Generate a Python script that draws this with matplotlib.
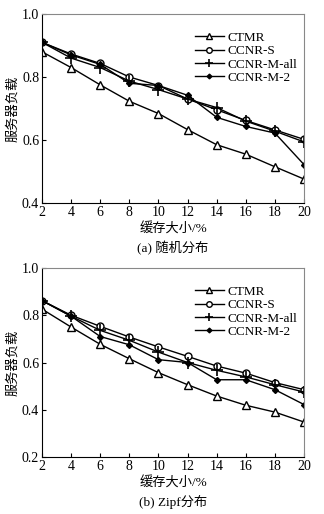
import matplotlib
matplotlib.use('Agg')
import matplotlib.pyplot as plt

plt.rcParams['font.family'] = ['Liberation Serif', 'Noto Sans CJK SC']

cache = [2, 4, 6, 8, 10, 12, 14, 16, 18, 20]
names = ['CTMR', 'CCNR-S', 'CCNR-M-all', 'CCNR-M-2']

# (a) random distribution
rand_ctmr = [0.88, 0.83, 0.775, 0.723, 0.684, 0.633, 0.585, 0.555, 0.515, 0.476]
rand_s = [0.91, 0.873, 0.843, 0.80, 0.773, 0.73, 0.696, 0.662, 0.632, 0.602]
rand_all = [0.91, 0.86, 0.83, 0.787, 0.76, 0.73, 0.703, 0.66, 0.628, 0.594]
rand_m2 = [0.91, 0.87, 0.84, 0.78, 0.773, 0.742, 0.672, 0.643, 0.622, 0.522]

# (b) Zipf distribution
zipf_ctmr = [0.826, 0.75, 0.677, 0.616, 0.557, 0.506, 0.458, 0.419, 0.39, 0.348]
zipf_s = [0.862, 0.80, 0.753, 0.708, 0.666, 0.626, 0.585, 0.555, 0.515, 0.485]
zipf_all = [0.862, 0.796, 0.736, 0.694, 0.644, 0.60, 0.567, 0.539, 0.506, 0.475]
zipf_m2 = [0.862, 0.796, 0.71, 0.675, 0.612, 0.60, 0.527, 0.527, 0.485, 0.422]

styles = [dict(marker='^', mfc='white', ms=6),
          dict(marker='o', mfc='white', ms=5),
          dict(marker='+', ms=8, mew=1.2),
          dict(marker='D', ms=3, mfc='black')]

fig = plt.figure(figsize=(3.24, 5.14), dpi=100)
ax1 = fig.add_axes([42/324, 1-203/514, 262/324, 189/514])
ax2 = fig.add_axes([42/324, 1-457/514, 262/324, 189/514])

panels = [(ax1, [rand_ctmr, rand_s, rand_all, rand_m2], (0.4, 1.0), [0.4, 0.6, 0.8, 1.0], '(a) 随机分布'),
          (ax2, [zipf_ctmr, zipf_s, zipf_all, zipf_m2], (0.2, 1.0), [0.2, 0.4, 0.6, 0.8, 1.0], '(b) Zipf分布')]

for ax, series, ylim, yt, cap in panels:
    for vals, name, st in zip(series, names, styles):
        ax.plot(cache, vals, color='black', lw=1.0, mec='black', label=name, **st)
    ax.set_xlim(2, 20)
    ax.set_ylim(*ylim)
    ax.set_xticks(cache)
    ax.set_yticks(yt)
    ax.set_yticklabels([f'{v:.1f}' for v in yt])
    ax.tick_params(direction='in', length=3, labelsize=10, pad=2)
    for s in ['top', 'right']:
        ax.spines[s].set_color('#888888')
        ax.spines[s].set_linewidth(0.8)
    ax.set_ylabel('服务器负载', fontsize=9.5, labelpad=2)
    ax.set_xlabel('缓存大小/%', fontsize=9.5, labelpad=3)
    ax.text(0.5, -0.238, cap, transform=ax.transAxes, ha='center', va='center', fontsize=9.5)
    leg = ax.legend(loc='upper right', bbox_to_anchor=(1.01, 0.955), frameon=False, fontsize=9.5,
                    handlelength=2.2, labelspacing=0.08, handletextpad=0.3, borderpad=0.2,
                    markerscale=0.8)

fig.savefig('out.png', dpi=100)
